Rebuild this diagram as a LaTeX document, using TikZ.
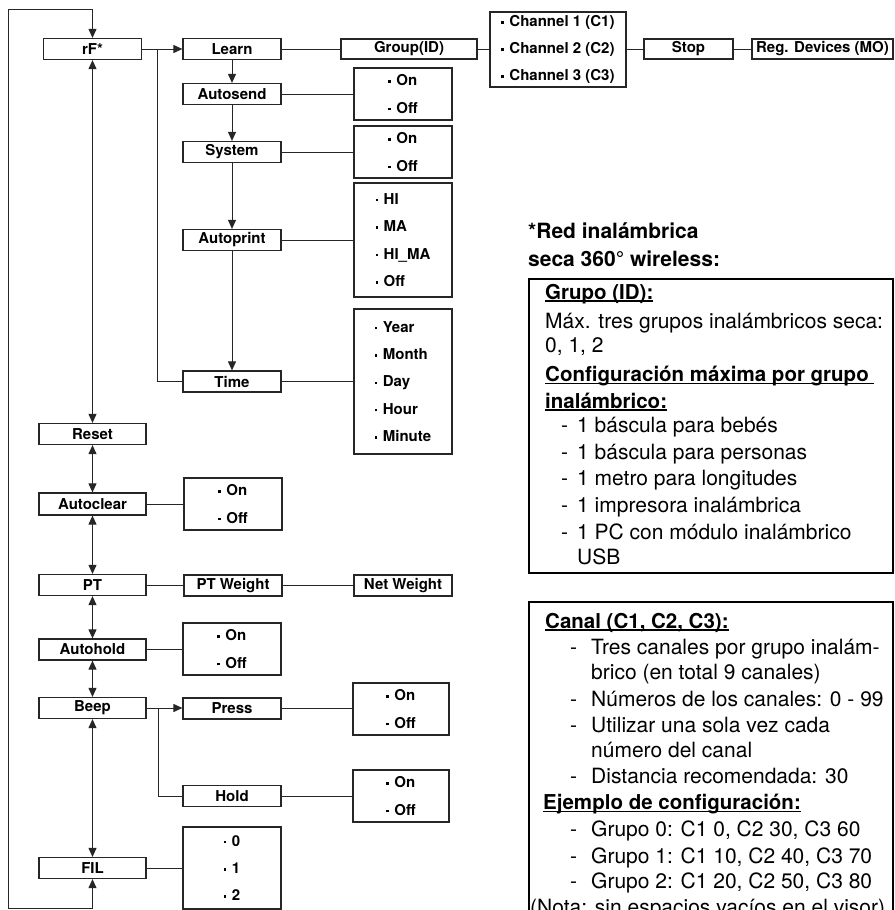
\documentclass[tikz,border=0pt]{standalone}
\usepackage{fontspec}
\setmainfont{TeX Gyre Heros}
\usetikzlibrary{arrows.meta}
\newlength\ulw
\newcommand\myul[1]{\settowidth\ulw{#1}\rlap{\rule[-2.6pt]{\ulw}{1.5pt}}#1}
\newcommand\bl{\raisebox{2.9pt}{\rule{2.5pt}{2.5pt}}\hspace{5.5pt}}
\tikzset{
 bx/.style={draw=black!85, line width=1.2pt, font=\fontsize{15}{18}\selectfont\bfseries, inner sep=0pt, minimum height=21pt, minimum width=98pt},
 mainbx/.style={bx, minimum width=107pt},
 optbx/.style={draw=black!85, line width=1.2pt, font=\fontsize{15}{27.4}\selectfont\bfseries, inner sep=0pt, minimum width=98pt, align=left},
 ln/.style={line width=1pt, draw=black!85},
 arr/.style={ln, -{Triangle[length=9pt,width=8pt]}},
 darr/.style={ln, {Triangle[length=9pt,width=8pt]}-{Triangle[length=9pt,width=8pt]}},
 note/.style={anchor=base west, inner sep=0pt, font=\fontsize{21}{24}\selectfont},
 notehd/.style={anchor=base west, inner sep=0pt, font=\fontsize{20.5}{24}\selectfont\bfseries},
 ttl/.style={anchor=base west, inner sep=0pt, font=\fontsize{21}{24}\selectfont\bfseries},
 panel/.style={draw, line width=2pt, anchor=north west, inner sep=0pt},
}
\begin{document}
\begin{tikzpicture}[x=1pt,y=-1pt]
\useasboundingbox (0,0) rectangle (894,910);
\clip (0,0) rectangle (894,910);

% main column
\node[bx] (rF) at (92.5,49) {rF*};
\node[mainbx] (Reset) at (92.5,434) {Reset};
\node[mainbx, minimum height=22pt] (Autoclear) at (92.5,504) {Autoclear};
\node[mainbx] (PT) at (92.5,585) {PT};
\node[mainbx] (Autohold) at (92.5,649.5) {Autohold};
\node[mainbx] (Beep) at (92.5,708) {Beep};
\node[mainbx] (FIL) at (92.5,868) {FIL};

% second column
\node[bx] (Learn) at (232,49) {Learn};
\node[bx] (Autosend) at (232,94) {Autosend};
\node[bx] (System) at (232,152) {System};
\node[bx] (Autoprint) at (232,240) {Autoprint};
\node[bx] (Time) at (232,381.5) {Time};
\node[optbx, minimum height=52pt] (acopt) at (233,504) {\bl On\\\bl Off};
\node[bx] (PTW) at (233,585.5) {PT Weight};
\node[optbx, minimum height=52pt] (ahopt) at (232,649) {\bl On\\\bl Off};
\node[bx] (Press) at (232,708.5) {Press};
\node[bx] (Hold) at (232,796) {Hold};
\node[optbx, minimum height=82pt] (filopt) at (232,868) {\bl 0\\\bl 1\\\bl 2};

% third column
\node[bx, minimum width=136pt, minimum height=20pt] (Group) at (409,49) {Group(ID)};
\node[optbx, minimum height=52pt] (asopt) at (403,94) {\bl On\\\bl Off};
\node[optbx, minimum height=52pt] (syopt) at (403,152) {\bl On\\\bl Off};
\node[optbx, minimum height=114pt] (apopt) at (403,240) {\bl HI\\\bl MA\\\bl HI\_MA\\\bl Off};
\node[optbx, minimum height=145pt] (tmopt) at (403,381.5) {\bl Year\\\bl Month\\\bl Day\\\bl Hour\\\bl Minute};
\node[bx] (NetW) at (403,585.5) {Net Weight};
\node[optbx, minimum width=96pt, minimum height=52pt] (propt) at (401,709) {\bl On\\\bl Off};
\node[optbx, minimum width=96pt, minimum height=52pt] (hoopt) at (401,796) {\bl On\\\bl Off};

% top right
\node[optbx, minimum width=136pt, minimum height=75pt, font=\fontsize{15}{27}\selectfont\bfseries] (Chan) at (558,49.5) {\bl Channel 1 (C1)\\\bl Channel 2 (C2)\\\bl Channel 3 (C3)};
\node[bx, minimum width=89pt, minimum height=20pt] (Stop) at (688.5,49) {Stop};
\node[bx, minimum width=141pt, minimum height=20pt] (Reg) at (822.5,49) {Reg. Devices (MO)};

% connectors
\coordinate (tl) at (8,9);
\coordinate (bl) at (8,908);
\draw[darr] (rF.north) -- (rF.north |- tl) -- (tl) -- (bl) -- (FIL.south |- bl) -- (FIL.south);
\draw[arr] (rF.east) -- (Learn.west);
\coordinate (b1) at (157,49);
\draw[ln] (b1) |- (Time.west);
\draw[arr] (Learn.south) -- (Autosend.north);
\draw[arr] (Autosend.south) -- (System.north);
\draw[arr] (System.south) -- (Autoprint.north);
\draw[arr] (Autoprint.south) -- (Time.north);
\draw[ln] (Learn.east) -- (Group.west);
\draw[ln] (Group.east) -- (Chan.west |- Group.east);
\draw[ln] (Chan.east |- Stop.west) -- (Stop.west);
\draw[ln] (Stop.east) -- (Reg.west);
\draw[ln] (Autosend.east) -- (asopt.west |- Autosend.east);
\draw[ln] (System.east) -- (syopt.west |- System.east);
\draw[ln] (Autoprint.east) -- (apopt.west |- Autoprint.east);
\draw[ln] (Time.east) -- (tmopt.west |- Time.east);

\draw[darr] (rF.south) -- (Reset.north);
\draw[darr] (Reset.south) -- (Autoclear.north);
\draw[darr] (Autoclear.south) -- (PT.north);
\draw[darr] (PT.south) -- (Autohold.north);
\draw[darr] (Autohold.south) -- (Beep.north);
\draw[darr] (Beep.south) -- (FIL.north);

\draw[ln] (Autoclear.east) -- (acopt.west |- Autoclear.east);
\draw[ln] (PT.east) -- (PTW.west |- PT.east);
\draw[ln] (PTW.east) -- (NetW.west);
\draw[ln] (Autohold.east) -- (ahopt.west |- Autohold.east);
\draw[arr] (Beep.east) -- (Press.west |- Beep.east);
\coordinate (b2) at (158,708);
\draw[ln] (b2) |- (Hold.west);
\draw[ln] (Press.east) -- (propt.west |- Press.east);
\draw[ln] (Hold.east) -- (hoopt.west |- Hold.east);
\draw[ln] (FIL.east) -- (filopt.west |- FIL.east);

% right notes
\node[ttl] (t1) at (528,238) {*Red inalámbrica};
\node[ttl] (t2) at (528,266) {seca 360°\ wireless:};

\node[panel, minimum width=364pt, minimum height=294pt] (box1) at (528,278) {};
\node[notehd] (g0) at (545,299.3) {\myul{Grupo (ID):}};
\node[note] (g1) at (545,328.3) {Máx. tres grupos inalámbricos seca:};
\node[note] (g2) at (545,352.7) {0, 1, 2};
\node[notehd] (g3) at (545,381.7) {\myul{Configuración máxima por grupo }};
\node[notehd] (g4) at (545,408.3) {\myul{inalámbrico:}};
\node[note] (g5) at (561,432.7) {\makebox[16pt][l]{-}1 báscula para bebés};
\node[note] (g6) at (561,459.3) {\makebox[16pt][l]{-}1 báscula para personas};
\node[note] (g7) at (561,485) {\makebox[16pt][l]{-}1 metro para longitudes};
\node[note] (g8) at (561,512.7) {\makebox[16pt][l]{-}1 impresora inalámbrica};
\node[note] (g9) at (561,539.3) {\makebox[16pt][l]{-}1 PC con módulo inalámbrico};
\node[note] (g10) at (577,564) {USB};

\node[panel, minimum width=364pt, minimum height=340pt] (box2) at (528,600.7) {};
\node[notehd] (c0) at (545,628) {\myul{Canal (C1, C2, C3):}};
\node[note] (c1) at (570,654.5) {\makebox[21pt][l]{-}Tres canales por grupo inalám-};
\node[note] (c2) at (591,679.5) {brico (en total 9 canales)};
\node[note] (c3) at (570,706.5) {\makebox[21pt][l]{-}Números de los canales: 0 - 99};
\node[note] (c4) at (570,732) {\makebox[21pt][l]{-}Utilizar una sola vez cada};
\node[note] (c5) at (591,757.5) {número del canal};
\node[note] (c6) at (570,783.5) {\makebox[21pt][l]{-}Distancia recomendada: 30};
\node[notehd] (c7) at (543,809.5) {\myul{Ejemplo de configuración:}};
\node[note] (c8) at (570,836.5) {\makebox[21pt][l]{-}Grupo 0: C1 0, C2 30, C3 60};
\node[note] (c9) at (570,863) {\makebox[21pt][l]{-}Grupo 1: C1 10, C2 40, C3 70};
\node[note] (c10) at (570,888) {\makebox[21pt][l]{-}Grupo 2: C1 20, C2 50, C3 80};
\node[note] (c11) at (530,914.5) {(Nota: sin espacios vacíos en el visor)};
\end{tikzpicture}
\end{document}
